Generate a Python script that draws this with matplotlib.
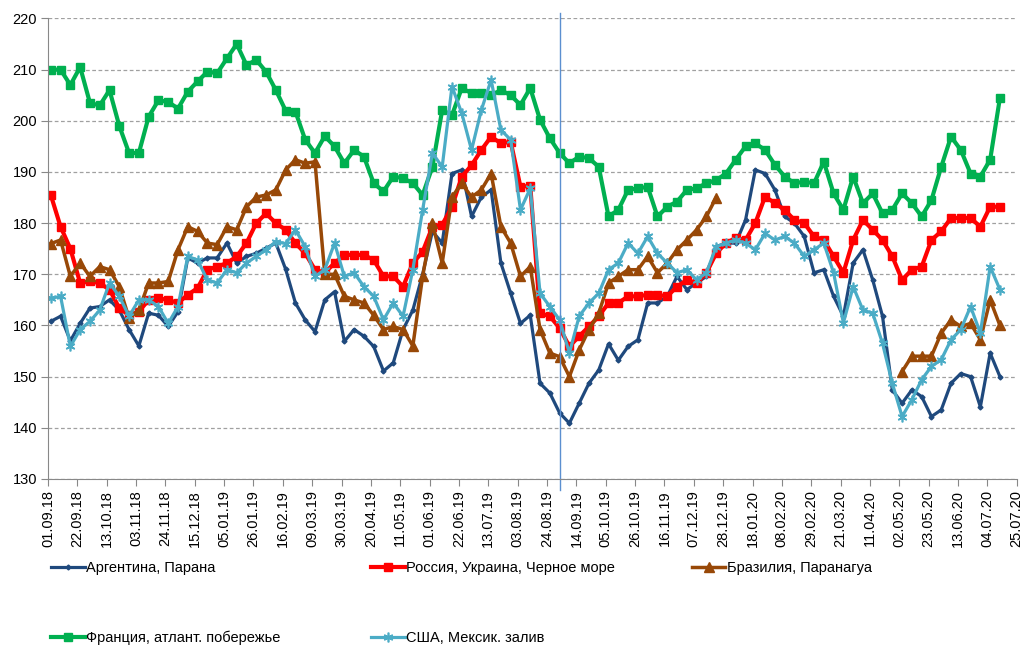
import matplotlib
matplotlib.use("Agg")
import matplotlib.pyplot as plt
import matplotlib.dates as mdates
import numpy as np
import pandas as pd

# weekly readings, first Monday of Sept 2018 onwards
dates = pd.date_range("2018-09-03", periods=98, freq="7D")

argentina = [160.8, 161.8, 157.0, 160.4, 163.4, 163.7, 165.0, 163.0, 159.2, 156.0,
             162.4, 162.0, 159.8, 162.7, 173.2, 172.2, 173.2, 173.2, 176.1, 172.2,
             173.5, 174.1, 175.1, 176.1, 171.0, 164.4, 161.1, 158.8, 165.0, 166.6,
             156.9, 159.2, 157.9, 155.9, 151.1, 152.7, 159.2, 163.0, 170.0, 178.4,
             176.1, 189.7, 190.4, 181.3, 185.1, 186.5, 172.2, 166.3, 160.4, 162.0,
             148.7, 146.8, 142.9, 140.9, 144.8, 148.7, 151.3, 156.4, 153.2, 155.9,
             157.2, 164.4, 164.4, 165.7, 169.6, 167.0, 168.3, 169.6, 175.4, 176.1,
             176.1, 180.6, 190.4, 189.7, 186.5, 181.3, 180.0, 177.4, 170.3, 170.9,
             165.7, 161.8, 172.2, 174.8, 168.9, 161.8, 147.4, 144.8, 147.4, 146.1,
             142.2, 143.5, 148.7, 150.6, 150.0, 144.1, 154.6, 150.0]

russia = [185.5, 179.3, 175.0, 168.3, 168.6, 168.3, 167.0, 163.4, 162.0, 162.7,
          165.0, 165.3, 165.0, 164.4, 166.0, 167.3, 170.9, 171.5, 172.2, 173.5,
          176.1, 180.0, 181.9, 180.0, 178.7, 176.1, 174.1, 170.9, 170.3, 172.2,
          173.8, 173.8, 173.8, 172.8, 169.6, 169.6, 167.6, 172.2, 174.4, 179.3,
          179.7, 183.2, 189.1, 191.3, 194.3, 196.9, 195.6, 195.9, 187.1, 187.3,
          162.4, 161.8, 159.5, 155.9, 157.9, 159.8, 161.8, 164.4, 164.4, 165.7,
          165.7, 166.0, 166.0, 165.7, 167.6, 168.9, 168.3, 170.3, 174.1, 176.1,
          177.1, 176.7, 180.0, 185.2, 183.9, 182.6, 180.6, 180.0, 177.4, 176.7,
          173.5, 170.3, 176.7, 180.6, 178.7, 176.7, 173.5, 168.9, 170.9, 171.5,
          176.7, 178.4, 181.0, 181.0, 181.0, 179.3, 183.2, 183.2]

brazil = [176.0, 176.7, 169.6, 172.2, 169.6, 171.5, 170.9, 167.6, 161.4, 163.0,
          168.3, 168.3, 168.6, 174.8, 179.3, 178.4, 176.1, 175.8, 179.3, 178.7,
          183.2, 185.1, 185.5, 186.5, 190.4, 192.4, 191.7, 192.0, 170.0, 170.0,
          165.7, 165.0, 164.4, 162.0, 159.2, 159.8, 159.2, 156.0, 169.6, 180.0,
          172.2, 185.1, 187.8, 185.1, 186.5, 189.7, 179.3, 176.1, 169.6, 171.5,
          159.2, 154.6, 153.9, 150.0, 155.2, 159.2, 162.4, 168.3, 169.6, 170.9,
          170.9, 173.5, 170.3, 172.2, 174.8, 176.7, 178.7, 181.3, 185.0, np.nan,
          np.nan, np.nan, np.nan, np.nan, np.nan, np.nan, np.nan, np.nan, np.nan, np.nan,
          np.nan, np.nan, np.nan, np.nan, np.nan, np.nan, np.nan, 151.0, 154.0, 154.0,
          154.0, 158.5, 161.1, 159.8, 160.4, 157.2, 165.0, 160.0]

france = [210.0, 210.0, 207.0, 210.5, 203.5, 203.0, 206.0, 199.0, 193.7, 193.7,
          200.8, 204.0, 203.7, 202.4, 205.7, 207.7, 209.6, 209.3, 212.2, 215.0,
          210.9, 211.9, 209.6, 206.0, 202.0, 201.8, 196.3, 193.7, 197.0, 195.0,
          191.7, 194.3, 193.0, 187.8, 186.2, 189.1, 188.8, 187.8, 185.5, 191.0,
          202.1, 201.1, 206.4, 205.4, 205.4, 205.0, 206.0, 205.0, 203.1, 206.4,
          200.2, 196.6, 193.7, 191.7, 193.0, 192.7, 191.0, 181.3, 182.6, 186.5,
          186.8, 187.1, 181.3, 183.2, 184.2, 186.5, 186.8, 187.8, 188.4, 189.7,
          192.4, 195.0, 195.6, 194.3, 191.4, 189.1, 187.8, 188.1, 187.8, 192.0,
          185.8, 182.6, 189.1, 183.9, 185.8, 181.9, 182.6, 185.8, 183.9, 181.3,
          184.5, 191.0, 196.9, 194.3, 189.7, 189.1, 192.4, 204.5]

usa = [165.3, 165.7, 155.9, 159.2, 160.8, 163.0, 168.3, 165.7, 161.8, 165.0,
       165.0, 163.7, 160.4, 163.7, 173.5, 172.8, 168.9, 168.3, 170.9, 170.3,
       172.2, 173.5, 174.8, 176.4, 176.0, 178.7, 175.4, 169.6, 170.9, 176.1,
       169.6, 170.3, 167.6, 165.7, 161.1, 164.4, 161.8, 170.9, 182.6, 193.7,
       191.0, 206.7, 201.5, 194.3, 202.1, 208.0, 198.2, 196.3, 182.6, 186.8,
       166.3, 163.7, 161.1, 154.6, 161.8, 164.4, 166.3, 170.9, 172.2, 176.1,
       174.1, 177.4, 174.1, 172.2, 170.3, 170.9, 168.9, 170.3, 175.4, 176.1,
       176.7, 176.1, 174.8, 178.0, 176.7, 177.4, 176.1, 173.5, 174.8, 176.1,
       170.3, 160.5, 167.6, 163.0, 162.4, 156.5, 148.7, 142.2, 145.5, 149.4,
       152.0, 153.3, 157.2, 159.2, 163.7, 158.5, 171.5, 167.0]

labels = ["Аргентина, Парана", "Россия, Украина, Черное море", "Бразилия, Паранагуа",
          "Франция, атлант. побережье", "США, Мексик. залив"]

year_mark = pd.Timestamp("2019-09-02")

plt.rcParams["font.family"] = ["Liberation Sans", "DejaVu Sans"]

fig = plt.figure(figsize=(10.3, 6.49), dpi=100)
ax = fig.add_axes([0.0466, 0.262, 0.9405, 0.7095])

styles = [
    dict(color="#1F497D", marker="D", markersize=2.5, linewidth=2.3),
    dict(color="#FF0000", marker="s", markersize=5.5, linewidth=3.0),
    dict(color="#984807", marker="^", markersize=7.5, linewidth=2.5),
    dict(color="#00B050", marker="s", markersize=5.5, linewidth=3.0),
    dict(color="#4BACC6", marker=(6, 2, 0), markersize=7, markeredgewidth=1.2, linewidth=2.3),
]
series = [argentina, russia, brazil, france, usa]

handles = []
for vals, st, lab in zip(series, styles, labels):
    ln, = ax.plot(dates, vals, label=lab, **st)
    handles.append(ln)

ax.axvline(year_mark, ymin=-0.025, ymax=1.012, color="#5B8FD0", linewidth=1.0, clip_on=False)

ax.set_ylim(130, 220)
ax.set_yticks(np.arange(130, 221, 10))
ax.set_xlim(pd.Timestamp("2018-09-01"), pd.Timestamp("2020-07-25"))
ax.set_xticks(pd.date_range("2018-09-01", "2020-07-25", freq="21D"))
ax.xaxis.set_major_formatter(mdates.DateFormatter("%d.%m.%y"))
ax.tick_params(axis="x", rotation=90, labelsize=10.5, length=5, color="#888888", pad=3)
ax.tick_params(axis="y", labelsize=10.5, length=5, color="#888888", pad=3)

ax.grid(axis="y", linestyle=(0, (3, 2)), color="#A0A0A0", linewidth=0.9)
ax.set_axisbelow(True)
for side in ["top", "right"]:
    ax.spines[side].set_visible(False)
for side in ["left", "bottom"]:
    ax.spines[side].set_color("#888888")

# legend: 3 columns on a fixed grid
legend_pos = [(0.044, 0.125), (0.355, 0.125), (0.666, 0.125), (0.044, 0.017), (0.355, 0.017)]
for h, (lx, ly) in zip(handles, legend_pos):
    fig.legend(handles=[h], loc="center left", bbox_to_anchor=(lx, ly), frameon=False,
               fontsize=10.5, handlelength=2.3, handletextpad=0.1, borderaxespad=0)

fig.savefig("out.png", dpi=100)
